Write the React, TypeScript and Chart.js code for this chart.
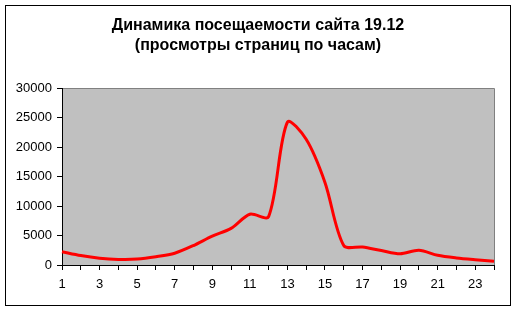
import React, { useEffect, useRef } from "react";
import { Chart, registerables } from "chart.js";

Chart.register(...registerables);

const titleLines = ["Динамика посещаемости сайта 19.12", "(просмотры страниц по часам)"];
const hours = ["1","2","3","4","5","6","7","8","9","10","11","12","13","14","15","16","17","18","19","20","21","22","23","24"];
const views = [2250, 1600, 1150, 950, 1000, 1400, 2000, 3300, 4900, 6200, 8600, 8200, 24200, 21300, 14000, 3300, 3050, 2450, 1900, 2500, 1650, 1200, 900, 650];
const yMin = 0;
const yMax = 30000;
const yStep = 5000;

const FONT = "'Liberation Sans', Arial, sans-serif";

const decorPlugin = {
  id: "decor",
  beforeDraw(chart: any) {
    const { ctx, chartArea } = chart;
    ctx.save();
    ctx.fillStyle = "#ffffff";
    ctx.fillRect(0, 0, chart.width, chart.height);
    ctx.fillStyle = "#C0C0C0";
    ctx.fillRect(chartArea.left, chartArea.top, chartArea.right - chartArea.left, chartArea.bottom - chartArea.top);
    ctx.strokeStyle = "#808080";
    ctx.lineWidth = 1;
    ctx.beginPath();
    ctx.moveTo(chartArea.left, chartArea.top + 0.5);
    ctx.lineTo(chartArea.right + 0.5, chartArea.top + 0.5);
    ctx.lineTo(chartArea.right + 0.5, chartArea.bottom);
    ctx.stroke();
    ctx.strokeStyle = "#000000";
    ctx.strokeRect(5.5, 5.5, 505, 300);
    ctx.fillStyle = "#000000";
    ctx.font = "bold 16px " + FONT;
    ctx.textAlign = "center";
    ctx.textBaseline = "middle";
    titleLines.forEach((t, i) => ctx.fillText(t, 258, 26 + i * 20));
    ctx.restore();
  },
};

export default function App() {
  const ref = useRef<HTMLCanvasElement | null>(null);
  useEffect(() => {
    if (!ref.current) return;
    const chart = new Chart(ref.current, {
      type: "line",
      data: {
        labels: hours,
        datasets: [
          {
            data: views,
            borderColor: "#FF0000",
            borderWidth: 3,
            pointRadius: 0,
            tension: 0.3,
            fill: false,
          },
        ],
      },
      options: {
        animation: false,
        responsive: false,
        layout: { padding: { top: 88, right: 24, bottom: 0, left: 0 } },
        plugins: { legend: { display: false }, title: { display: false }, tooltip: { enabled: false } },
        scales: {
          x: {
            type: "category",
            offset: false,
            afterFit: (s: any) => { s.height = 47; },
            grid: { drawOnChartArea: false, drawTicks: true, tickLength: 5, color: "#000000", offset: false },
            border: { color: "#000000", width: 1 },
            ticks: {
              autoSkip: false,
              maxRotation: 0,
              padding: 7,
              color: "#000000",
              font: { family: FONT, size: 13 },
              callback: (_v: any, i: number) => (i % 2 === 0 ? hours[i] : ""),
            },
          },
          y: {
            min: yMin,
            max: yMax,
            afterFit: (s: any) => { s.width = 62; },
            grid: { drawOnChartArea: false, drawTicks: true, tickLength: 5, color: "#000000" },
            border: { color: "#000000", width: 1 },
            ticks: {
              stepSize: yStep,
              padding: 5,
              color: "#000000",
              font: { family: FONT, size: 13 },
              callback: (v: any) => String(v),
            },
          },
        },
      },
      plugins: [decorPlugin],
    });
    return () => chart.destroy();
  }, []);
  return (
    <div style={{ position: "fixed", left: 0, top: 0, width: 518, height: 312 }}>
      <canvas ref={ref} width={518} height={312} style={{ width: 518, height: 312, display: "block" }} />
    </div>
  );
}
